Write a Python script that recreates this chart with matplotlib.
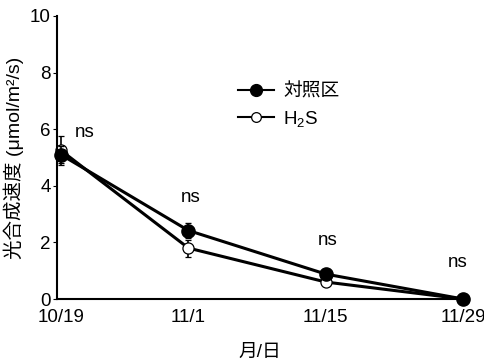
import matplotlib
matplotlib.use("Agg")
import matplotlib.pyplot as plt
from matplotlib.lines import Line2D

plt.rcParams['font.family'] = ['Liberation Sans', 'Noto Sans CJK JP', 'DejaVu Sans']
plt.rcParams['mathtext.fontset'] = 'custom'
plt.rcParams['mathtext.rm'] = 'Liberation Sans'
plt.rcParams['mathtext.it'] = 'Liberation Sans:italic'

dates = ["10/19", "11/1", "11/15", "11/29"]
days = [0, 13, 27, 41]
control = [5.1, 2.42, 0.88, 0.0]
control_err = [0.3, 0.28, 0.1, 0.0]
h2s = [5.25, 1.8, 0.6, 0.0]
h2s_err = [0.5, 0.3, 0.12, 0.0]
sig_labels = ["ns", "ns", "ns", "ns"]
sig_y = [5.9, 3.6, 2.08, 1.3]
sig_x = [2.4, 13.2, 27.2, 40.4]

FS = 13.5
fig = plt.figure(figsize=(4.85, 3.6), dpi=100)
ax = fig.add_axes([0.1175, 0.1694, 0.8375, 0.7862])

e1 = ax.errorbar(days, h2s, yerr=h2s_err, color='black', lw=2.2, marker='o', ms=8,
                 mfc='white', mec='black', mew=0.9, capsize=2, elinewidth=1.2, zorder=2)
e2 = ax.errorbar(days, control, yerr=control_err, color='black', lw=2.2, marker='o', ms=9.5,
                 mfc='black', mec='black', capsize=2, elinewidth=1.2, zorder=3)
for e in (e1, e2):
    for art in e.get_children():
        art.set_clip_on(False)

for x, y, s in zip(sig_x, sig_y, sig_labels):
    ax.text(x, y, s, ha='center', va='center', fontsize=FS)

ax.set_xlim(-0.4, 41)
ax.set_ylim(0, 10)
ax.set_yticks([0, 2, 4, 6, 8, 10])
ax.set_xticks(days)
ax.set_xticklabels(dates)
ax.tick_params(axis='x', length=0, labelsize=FS, pad=7)
ax.tick_params(axis='y', length=3, labelsize=FS, pad=1.5)
for sp in ['top', 'right']:
    ax.spines[sp].set_visible(False)
ax.spines['left'].set_linewidth(1.5)
ax.spines['bottom'].set_linewidth(1.5)

ax.set_ylabel('光合成速度 (μmol/m²/s)', fontsize=14, labelpad=4)
ax.set_xlabel('月/日', fontsize=FS, labelpad=13)

h_ctrl = Line2D([], [], color='black', lw=1.5, marker='o', ms=8.5, mfc='black', mec='black')
h_h2s = Line2D([], [], color='black', lw=1.5, marker='o', ms=7, mfc='white', mec='black', mew=0.9)
ax.legend([h_ctrl, h_h2s], ['対照区', 'H$_2$S'], loc='upper left', bbox_to_anchor=(0.437, 0.776),
          frameon=False, fontsize=FS, handlelength=1.9, handletextpad=0.5, labelspacing=0.45,
          borderaxespad=0, borderpad=0.2)

fig.savefig('out.png', dpi=100)
